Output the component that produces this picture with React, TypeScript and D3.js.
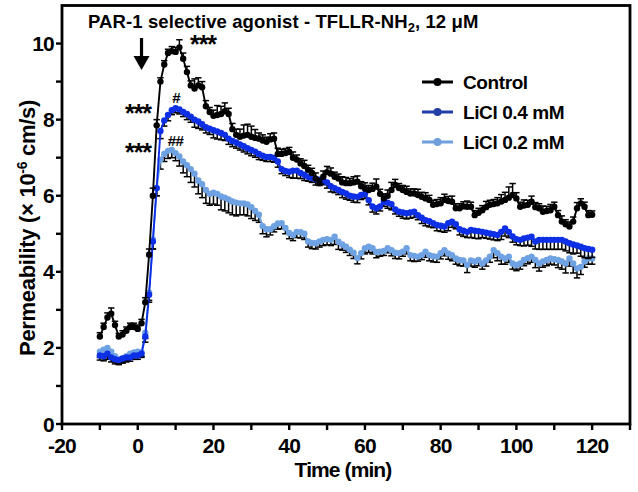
import React from "react";
import * as d3 from "d3";

// ---------- data ----------
const times = [
  -10, -9, -8, -7, -6, -5, -4, -3, -2, -1,
  0, 1, 2, 3, 4, 5, 6, 7, 8, 9,
  10, 11, 12, 13, 14, 15, 16, 17, 18, 19,
  20, 21, 22, 23, 24, 25, 26, 27, 28, 29,
  30, 31, 32, 33, 34, 35, 36, 37, 38, 39,
  40, 41, 42, 43, 44, 45, 46, 47, 48, 49,
  50, 51, 52, 53, 54, 55, 56, 57, 58, 59,
  60, 61, 62, 63, 64, 65, 66, 67, 68, 69,
  70, 71, 72, 73, 74, 75, 76, 77, 78, 79,
  80, 81, 82, 83, 84, 85, 86, 87, 88, 89,
  90, 91, 92, 93, 94, 95, 96, 97, 98, 99,
  100, 101, 102, 103, 104, 105, 106, 107, 108, 109,
  110, 111, 112, 113, 114, 115, 116, 117, 118, 119,
  120,
];

const controlMean = [
  2.3, 2.55, 2.8, 2.9, 2.6, 2.3, 2.35, 2.45, 2.55, 2.55,
  2.5, 2.65, 3.2, 4.45, 6.0, 7.85, 9.0, 9.45, 9.75, 9.8,
  9.78, 9.9, 9.6, 9.25, 8.9, 8.82, 8.9, 8.85, 8.35, 8.2,
  8.1, 8.12, 8.15, 8.22, 8.15, 7.75, 7.6, 7.55, 7.58, 7.6,
  7.55, 7.52, 7.5, 7.45, 7.42, 7.48, 7.5, 7.1, 7.1, 7.12,
  7.15, 7.0, 6.95, 6.85, 6.78, 6.68, 6.6, 6.45, 6.33, 6.5,
  6.62, 6.58, 6.5, 6.45, 6.35, 6.33, 6.33, 6.35, 6.37, 6.25,
  6.19, 6.15, 6.18, 6.24, 6.05, 5.93, 6.0, 6.15, 6.28, 6.2,
  6.15, 6.1, 6.06, 6.06, 6.02, 5.97, 5.93, 5.89, 5.76, 5.78,
  5.8, 5.89, 5.86, 5.84, 5.67, 5.67, 5.72, 5.71, 5.71, 5.49,
  5.55, 5.62, 5.7, 5.76, 5.78, 5.8, 5.85, 5.89, 5.95, 6.02,
  5.93, 5.71, 5.74, 5.76, 5.84, 5.7, 5.67, 5.58, 5.6, 5.62,
  5.71, 5.49, 5.32, 5.25, 5.19, 5.32, 5.67, 5.8, 5.71, 5.49,
  5.5,
];
const controlErr = [
  0.1, 0.1, 0.12, 0.15, 0.1, 0.08, 0.1, 0.1, 0.1, 0.1,
  0.1, 0.1, 0.12, 0.15, 0.2, 0.15, 0.1, 0.1, 0.1, 0.12,
  0.12, 0.2, 0.15, 0.15, 0.12, 0.25, 0.2, 0.15, 0.15, 0.12,
  0.15, 0.25, 0.2, 0.22, 0.15, 0.15, 0.15, 0.2, 0.28, 0.28,
  0.28, 0.22, 0.15, 0.15, 0.12, 0.15, 0.15, 0.15, 0.12, 0.12,
  0.12, 0.15, 0.12, 0.12, 0.15, 0.12, 0.12, 0.15, 0.12, 0.15,
  0.15, 0.15, 0.12, 0.12, 0.15, 0.15, 0.12, 0.15, 0.15, 0.12,
  0.15, 0.12, 0.15, 0.2, 0.12, 0.12, 0.15, 0.2, 0.15, 0.12,
  0.12, 0.15, 0.12, 0.12, 0.15, 0.12, 0.15, 0.12, 0.12, 0.12,
  0.15, 0.15, 0.12, 0.15, 0.12, 0.12, 0.12, 0.15, 0.12, 0.12,
  0.12, 0.12, 0.15, 0.12, 0.12, 0.15, 0.18, 0.2, 0.28, 0.3,
  0.15, 0.12, 0.15, 0.12, 0.15, 0.12, 0.12, 0.15, 0.12, 0.15,
  0.12, 0.12, 0.15, 0.12, 0.12, 0.12, 0.15, 0.12, 0.12, 0.12,
  0.1,
];

const licl04Mean = [
  1.8, 1.78, 1.85, 1.75, 1.7, 1.68, 1.72, 1.75, 1.75, 1.8,
  1.8, 1.85, 2.3, 3.4, 4.8, 6.2, 7.7, 7.98, 8.12, 8.25,
  8.3, 8.27, 8.2, 8.15, 8.08, 8.0, 7.95, 7.88, 7.8, 7.76,
  7.72, 7.69, 7.65, 7.6, 7.5, 7.44, 7.4, 7.35, 7.3, 7.25,
  7.2, 7.16, 7.1, 7.05, 7.02, 7.02, 7.0, 6.9, 6.7, 6.65,
  6.63, 6.66, 6.66, 6.6, 6.55, 6.5, 6.47, 6.43, 6.42, 6.41,
  6.35, 6.25, 6.2, 6.15, 6.1, 6.06, 6.0, 5.98, 5.97, 6.02,
  6.05, 5.88, 5.72, 5.67, 5.72, 5.84, 5.82, 5.78, 5.64, 5.58,
  5.56, 5.54, 5.56, 5.58, 5.49, 5.42, 5.36, 5.33, 5.28, 5.23,
  5.21, 5.19, 5.28, 5.32, 5.25, 5.12, 5.08, 5.05, 5.1, 5.08,
  5.07, 5.05, 5.03, 5.01, 4.99, 4.97, 5.05, 5.14, 5.05, 4.93,
  4.86, 4.84, 4.88, 4.9, 4.92, 4.8, 4.84, 4.84, 4.84, 4.84,
  4.84, 4.84, 4.84, 4.8, 4.75, 4.72, 4.69, 4.66, 4.62, 4.6,
  4.58,
];
const licl04Err = [
  0.12, 0.12, 0.15, 0.12, 0.12, 0.12, 0.1, 0.12, 0.1, 0.1,
  0.1, 0.1, 0.15, 0.2, 0.2, 0.2, 0.2, 0.15, 0.15, 0.12,
  0.12, 0.12, 0.12, 0.15, 0.15, 0.2, 0.18, 0.15, 0.15, 0.15,
  0.2, 0.2, 0.18, 0.15, 0.15, 0.15, 0.15, 0.15, 0.15, 0.15,
  0.15, 0.15, 0.15, 0.12, 0.12, 0.12, 0.12, 0.15, 0.12, 0.12,
  0.15, 0.2, 0.2, 0.15, 0.15, 0.12, 0.12, 0.15, 0.15, 0.12,
  0.15, 0.15, 0.12, 0.12, 0.15, 0.15, 0.12, 0.15, 0.15, 0.12,
  0.12, 0.12, 0.15, 0.15, 0.12, 0.12, 0.15, 0.15, 0.12, 0.12,
  0.15, 0.15, 0.15, 0.15, 0.12, 0.15, 0.15, 0.15, 0.12, 0.15,
  0.15, 0.15, 0.2, 0.15, 0.12, 0.15, 0.15, 0.15, 0.2, 0.2,
  0.2, 0.15, 0.15, 0.15, 0.15, 0.15, 0.2, 0.2, 0.15, 0.15,
  0.15, 0.15, 0.2, 0.2, 0.25, 0.2, 0.25, 0.25, 0.25, 0.25,
  0.25, 0.25, 0.25, 0.25, 0.25, 0.25, 0.2, 0.25, 0.25, 0.25,
  0.2,
];

const licl02Mean = [
  1.9, 1.95, 2.0, 1.9, 1.78, 1.7, 1.72, 1.78, 1.85, 1.88,
  1.9, 1.88, 2.4, 3.45, 4.85, 6.2, 6.95, 7.1, 7.18, 7.2,
  7.12, 7.03, 6.9, 6.8, 6.7, 6.58, 6.4, 6.3, 6.15, 6.05,
  6.08, 6.05, 5.98, 5.95, 5.9, 5.85, 5.82, 5.8, 5.8, 5.77,
  5.7, 5.6, 5.5, 5.2, 5.12, 5.12, 5.2, 5.27, 5.28, 5.15,
  5.02, 4.97, 5.05, 5.04, 5.0, 4.8, 4.76, 4.75, 4.8, 4.84,
  4.86, 4.84, 4.92, 4.79, 4.72, 4.66, 4.58, 4.5, 4.36, 4.49,
  4.62, 4.66, 4.62, 4.52, 4.53, 4.55, 4.62, 4.57, 4.5, 4.49,
  4.53, 4.62, 4.44, 4.42, 4.4, 4.44, 4.53, 4.44, 4.41, 4.4,
  4.49, 4.57, 4.48, 4.44, 4.35, 4.31, 4.3, 4.18, 4.3, 4.27,
  4.31, 4.22, 4.3, 4.4, 4.57, 4.49, 4.4, 4.35, 4.4, 4.22,
  4.18, 4.22, 4.31, 4.36, 4.4, 4.31, 4.22, 4.27, 4.31, 4.35,
  4.33, 4.31, 4.27, 4.22, 4.35, 4.22, 4.09, 4.13, 4.27, 4.35,
  4.35,
];
const licl02Err = [
  0.15, 0.18, 0.2, 0.15, 0.15, 0.12, 0.12, 0.12, 0.12, 0.12,
  0.1, 0.1, 0.15, 0.2, 0.25, 0.2, 0.25, 0.2, 0.2, 0.2,
  0.2, 0.25, 0.3, 0.3, 0.35, 0.35, 0.35, 0.35, 0.35, 0.3,
  0.3, 0.3, 0.35, 0.35, 0.35, 0.35, 0.35, 0.3, 0.3, 0.3,
  0.3, 0.25, 0.2, 0.2, 0.2, 0.15, 0.15, 0.15, 0.15, 0.15,
  0.15, 0.15, 0.15, 0.15, 0.15, 0.15, 0.15, 0.15, 0.15, 0.15,
  0.15, 0.15, 0.2, 0.2, 0.15, 0.15, 0.15, 0.15, 0.15, 0.15,
  0.15, 0.15, 0.15, 0.15, 0.12, 0.12, 0.12, 0.15, 0.15, 0.15,
  0.12, 0.15, 0.15, 0.15, 0.12, 0.12, 0.15, 0.15, 0.15, 0.15,
  0.15, 0.15, 0.15, 0.15, 0.15, 0.15, 0.15, 0.2, 0.15, 0.15,
  0.15, 0.15, 0.15, 0.15, 0.2, 0.2, 0.2, 0.15, 0.15, 0.15,
  0.15, 0.15, 0.15, 0.15, 0.15, 0.2, 0.2, 0.15, 0.15, 0.15,
  0.15, 0.2, 0.2, 0.25, 0.2, 0.25, 0.25, 0.2, 0.15, 0.15,
  0.15,
];

const seriesNames = ["Control", "LiCl 0.4 mM", "LiCl 0.2 mM"];
const xTicks = [-20, -10, 0, 10, 20, 30, 40, 50, 60, 70, 80, 90, 100, 110, 120, 130];
const xTickLabels = [-20, 0, 20, 40, 60, 80, 100, 120];
const yTicks = [0, 1, 2, 3, 4, 5, 6, 7, 8, 9, 10];
const yTickLabels = [0, 2, 4, 6, 8, 10];

// ---------- layout ----------
const W = 638;
const H = 492;
const FONT = "'Liberation Sans', Arial, Helvetica, sans-serif";

const x = d3.scaleLinear().domain([-20, 130]).range([62, 630]);
const y = d3.scaleLinear().domain([0, 11]).range([424, 5.5]);

type Series = {
  name: string;
  mean: number[];
  err: number[];
  dir: number;
  color: string;
  legendColor: string;
};

const series: Series[] = [
  { name: seriesNames[2], mean: licl02Mean, err: licl02Err, dir: -1, color: "#6fa2e2", legendColor: "#6f9fdc" },
  { name: seriesNames[1], mean: licl04Mean, err: licl04Err, dir: -1, color: "#0d2fe6", legendColor: "#1f3ea6" },
  { name: seriesNames[0], mean: controlMean, err: controlErr, dir: 1, color: "#000000", legendColor: "#000000" },
];

const legendOrder = [series[2], series[1], series[0]];

function SeriesMarks({ s }: { s: Series }) {
  const pts = times.map((t, i) => ({ t, v: s.mean[i], e: s.err[i] }));
  const line = d3
    .line<{ t: number; v: number }>()
    .x((d) => x(d.t))
    .y((d) => y(d.v));
  return (
    <g>
      {pts.map((p, i) => {
        const px = x(p.t);
        const y0 = y(p.v);
        const y1 = y(p.v + s.dir * p.e);
        return (
          <g key={"e" + i} stroke="#000" strokeWidth={1.5}>
            <line x1={px} x2={px} y1={y0} y2={y1} />
            <line x1={px - 3.2} x2={px + 3.2} y1={y1} y2={y1} />
          </g>
        );
      })}
      <path d={line(pts) || ""} fill="none" stroke={s.color} strokeWidth={1.9} />
      {pts.map((p, i) => (
        <circle key={"c" + i} cx={x(p.t)} cy={y(p.v)} r={3.2} fill={s.color} />
      ))}
    </g>
  );
}

export default function App() {
  const frame = { left: x(-20), right: x(130), top: y(11), bottom: y(0) };
  return (
    <svg
      width={W}
      height={H}
      viewBox={`0 0 ${W} ${H}`}
      style={{ position: "fixed", left: 0, top: 0, background: "#fff" }}
      fontFamily={FONT}
    >
      <rect x={0} y={0} width={W} height={H} fill="#fff" />

      {/* data */}
      {series.map((s) => (
        <SeriesMarks key={s.name} s={s} />
      ))}

      {/* frame */}
      <rect
        x={frame.left}
        y={frame.top}
        width={frame.right - frame.left}
        height={frame.bottom - frame.top}
        fill="none"
        stroke="#000"
        strokeWidth={2.8}
      />

      {/* x ticks */}
      {xTicks.map((t) => (
        <line key={"xt" + t} x1={x(t)} x2={x(t)} y1={frame.bottom} y2={frame.bottom + 6} stroke="#000" strokeWidth={2.4} />
      ))}
      {xTickLabels.map((t) => (
        <text
          key={"xl" + t}
          x={x(t)}
          y={453}
          textAnchor="middle"
          fontSize={21}
          fontWeight="bold"
          letterSpacing={-0.8}
        >
          {t}
        </text>
      ))}

      {/* y ticks */}
      {yTicks.map((v) => (
        <line key={"yt" + v} x1={frame.left - 6} x2={frame.left} y1={y(v)} y2={y(v)} stroke="#000" strokeWidth={2.4} />
      ))}
      {yTickLabels.map((v) => (
        <text
          key={"yl" + v}
          x={54}
          y={y(v) + 7.5}
          textAnchor="end"
          fontSize={21}
          fontWeight="bold"
          letterSpacing={-0.8}
        >
          {v}
        </text>
      ))}

      {/* axis titles */}
      <text x={343} y={477} textAnchor="middle" fontSize={21} fontWeight="bold" letterSpacing={-0.9}>
        Time (min)
      </text>
      <text
        transform="translate(35,228) rotate(-90)"
        textAnchor="middle"
        fontSize={22}
        fontWeight="bold"
        letterSpacing={-0.3}
      >
        Permeability (× 10
        <tspan fontSize={14} dy={-8}>-6</tspan>
        <tspan dy={8}> cm/s)</tspan>
      </text>

      {/* annotation title */}
      <text x={88} y={28} fontSize={18.5} fontWeight="bold" letterSpacing={0.1}>
        PAR-1 selective agonist - TFLLR-NH
        <tspan fontSize={13} dy={4}>2</tspan>
        <tspan dy={-4}>, 12 μM</tspan>
      </text>

      {/* arrow */}
      <line x1={x(1)} x2={x(1)} y1={38} y2={62} stroke="#000" strokeWidth={3.2} />
      <path d={`M${x(1) - 8},56 L${x(1) + 8},56 L${x(1)},70 Z`} fill="#000" />

      {/* significance marks */}
      <text x={203} y={53} textAnchor="middle" fontSize={25} fontWeight="bold" letterSpacing={-1}>***</text>
      <text x={138} y={122} textAnchor="middle" fontSize={25} fontWeight="bold" letterSpacing={-1}>***</text>
      <text x={138} y={161} textAnchor="middle" fontSize={25} fontWeight="bold" letterSpacing={-1}>***</text>
      <text x={176.5} y={103} textAnchor="middle" fontSize={15} fontWeight="bold">#</text>
      <text x={175.5} y={146} textAnchor="middle" fontSize={15} fontWeight="bold" letterSpacing={-0.5}>##</text>

      {/* legend */}
      {legendOrder.map((s, i) => {
        const ly = 82 + i * 30;
        return (
          <g key={"lg" + s.name}>
            <line x1={422} x2={453} y1={ly} y2={ly} stroke={s.legendColor} strokeWidth={3} />
            <circle cx={437.5} cy={ly} r={4} fill={s.legendColor} />
            <text x={463} y={ly + 7} fontSize={19} fontWeight="bold" letterSpacing={-0.4}>
              {s.name}
            </text>
          </g>
        );
      })}
    </svg>
  );
}
